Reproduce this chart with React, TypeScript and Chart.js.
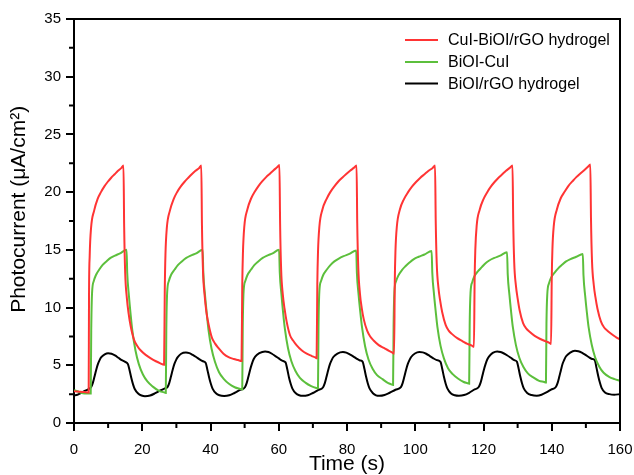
import React, { useEffect, useRef } from "react";
import { Chart, registerables } from "chart.js";

Chart.register(...registerables);

const FONT = '"Liberation Sans", Arial, Helvetica, sans-serif';

const seriesNames = ["CuI-BiOI/rGO hydrogel", "BiOI-CuI", "BiOI/rGO hydrogel"];
const seriesColors = ["#ff3434", "#5cbf3c", "#000000"];

const xMajorTicks = [0, 20, 40, 60, 80, 100, 120, 140, 160];
const xMinorTicks = [10, 30, 50, 70, 90, 110, 130, 150];
const yMajorTicks = [0, 5, 10, 15, 20, 25, 30, 35];
const yMinorTicks = [2.5, 7.5, 12.5, 17.5, 22.5, 27.5, 32.5];

const xTitle = "Time (s)";
const yTitle = "    Photocurrent (\u03bcA/cm\u00b2)";

// time (s), photocurrent (µA/cm²)
const redCurve: [number, number][] = [
  [0, 2.75], [1, 2.72], [2, 2.7], [3, 2.68], [4.3, 2.65],
  [4.4, 11], [4.6, 14.5], [5.0, 16.9], [5.9, 18.4], [6.9, 19.4], [7.9, 20.0], [8.9, 20.5], [9.9, 20.9], [10.9, 21.25], [11.9, 21.55], [12.9, 21.85], [13.9, 22.1], [14.5, 22.3],
  [14.7, 17], [15.0, 13.0], [15.5, 10.8], [16.0, 9.5], [16.6, 8.4], [17.6, 7.2], [18.5, 6.7], [19.5, 6.3], [21.0, 5.9], [22.5, 5.6], [24.0, 5.35], [25.3, 5.17], [26.4, 5.05],
  [26.6, 11.5], [26.8, 14.6], [27.2, 16.9], [28.1, 18.4], [29.2, 19.4], [30.2, 20.0], [31.3, 20.5], [32.4, 20.9], [33.5, 21.25], [34.5, 21.55], [35.6, 21.85], [36.7, 22.1], [37.3, 22.3],
  [37.5, 17.1], [37.8, 13.2], [38.3, 11.0], [38.8, 9.6], [39.4, 8.6], [40.4, 7.4], [41.3, 6.9], [42.3, 6.5], [43.8, 6.0], [45.3, 5.7], [46.8, 5.55], [48.1, 5.45], [49.1, 5.37],
  [49.3, 11.8], [49.5, 14.7], [49.9, 17.0], [50.8, 18.5], [51.9, 19.45], [53.0, 20.05], [54.1, 20.55], [55.2, 20.95], [56.3, 21.3], [57.4, 21.6], [58.5, 21.9], [59.5, 22.15], [60.2, 22.35],
  [60.4, 17.2], [60.7, 13.3], [61.2, 11.1], [61.7, 9.9], [62.3, 8.8], [63.3, 7.6], [64.2, 7.15], [65.2, 6.75], [66.7, 6.3], [68.2, 6.0], [69.7, 5.8], [70.9, 5.65], [71.1, 5.6],
  [71.3, 12], [71.5, 14.8], [71.9, 17.0], [72.8, 18.5], [74.0, 19.4], [75.1, 20.0], [76.3, 20.5], [77.4, 20.9], [78.6, 21.25], [79.7, 21.55], [80.9, 21.85], [82.0, 22.1], [82.8, 22.3],
  [83.0, 17.3], [83.3, 13.5], [83.8, 11.2], [84.3, 10.0], [84.9, 9.0], [85.9, 8.0], [86.8, 7.5], [87.8, 7.15], [89.3, 6.75], [90.8, 6.5], [92.3, 6.25], [93.3, 6.1], [93.8, 6.0],
  [94.0, 12.2], [94.2, 14.9], [94.6, 17.0], [95.5, 18.5], [96.7, 19.4], [97.9, 20.0], [99.1, 20.5], [100.3, 20.9], [101.5, 21.25], [102.7, 21.55], [103.9, 21.85], [105.1, 22.1], [105.8, 22.3],
  [106.0, 17.5], [106.3, 13.8], [106.8, 11.7], [107.3, 10.6], [107.9, 9.6], [108.9, 8.5], [109.8, 8.0], [110.8, 7.7], [112.3, 7.35], [113.8, 7.1], [115.3, 6.85], [116.6, 6.7], [117.2, 6.6],
  [117.4, 12.4], [117.6, 15.0], [118.0, 17.1], [118.9, 18.5], [120.0, 19.4], [121.1, 20.0], [122.2, 20.5], [123.3, 20.9], [124.4, 21.25], [125.5, 21.55], [126.6, 21.85], [127.7, 22.1], [128.5, 22.3],
  [128.7, 17.6], [129.0, 13.9], [129.5, 11.9], [130.0, 10.8], [130.6, 9.75], [131.6, 8.65], [132.5, 8.2], [133.5, 7.9], [135.0, 7.55], [136.5, 7.3], [138.0, 7.1], [139.3, 6.95], [139.8, 6.85],
  [140.0, 12.5], [140.2, 15.1], [140.6, 17.1], [141.5, 18.5], [142.6, 19.45], [143.8, 20.05], [144.9, 20.55], [146.1, 20.95], [147.2, 21.3], [148.3, 21.6], [149.5, 21.9], [150.6, 22.2], [151.3, 22.4],
  [151.5, 17.7], [151.8, 14.0], [152.3, 12.0], [152.8, 10.9], [153.4, 9.9], [154.4, 8.8], [155.3, 8.3], [156.3, 8.0], [157.8, 7.65], [159.0, 7.4], [160, 7.25],
];

const greenCurve: [number, number][] = [
  [0, 2.85], [1, 2.75], [2, 2.62], [3, 2.55], [4.9, 2.55],
  [5.05, 8], [5.3, 11.3], [5.8, 12.3], [6.4, 12.8], [7.4, 13.3], [8.4, 13.7], [9.5, 14.0], [10.7, 14.3], [12.0, 14.5], [13.5, 14.7], [15.4, 15.0],
  [15.6, 13], [16.1, 11.0], [16.6, 9.4], [17.1, 8.0], [18.0, 6.3], [19.0, 5.1], [20.2, 4.2], [21.5, 3.6], [23.1, 3.15], [24.8, 2.8], [26.4, 2.65], [26.9, 2.6],
  [27.05, 8], [27.3, 11.3], [27.8, 12.3], [28.4, 12.8], [29.5, 13.3], [30.5, 13.7], [31.6, 14.0], [32.9, 14.3], [34.2, 14.5], [35.8, 14.7], [37.7, 15.0],
  [37.9, 13.0], [38.4, 11.05], [38.9, 9.5], [39.4, 8.1], [40.3, 6.45], [41.3, 5.3], [42.5, 4.4], [43.8, 3.85], [45.4, 3.4], [47.1, 3.1], [48.7, 2.95], [49.3, 2.9],
  [49.45, 8.2], [49.7, 11.4], [50.2, 12.3], [50.8, 12.8], [51.9, 13.3], [52.9, 13.7], [54.0, 14.0], [55.3, 14.3], [56.6, 14.5], [58.2, 14.7], [60.1, 15.0],
  [60.3, 13.05], [60.8, 11.1], [61.3, 9.5], [61.8, 8.15], [62.7, 6.5], [63.7, 5.35], [64.9, 4.5], [66.2, 3.9], [67.8, 3.5], [69.5, 3.2], [71.0, 3.03], [71.5, 3.0],
  [71.65, 8.3], [71.9, 11.4], [72.4, 12.3], [73.0, 12.8], [74.1, 13.3], [75.2, 13.7], [76.3, 14.0], [77.6, 14.25], [79.0, 14.45], [80.7, 14.65], [82.7, 14.95],
  [82.9, 13.0], [83.4, 11.1], [83.9, 9.6], [84.4, 8.3], [85.3, 6.65], [86.3, 5.5], [87.5, 4.7], [88.8, 4.15], [90.4, 3.8], [92.1, 3.45], [93.0, 3.35], [93.5, 3.3],
  [93.65, 8.4], [93.9, 11.4], [94.4, 12.3], [95.0, 12.75], [96.1, 13.25], [97.2, 13.6], [98.3, 13.9], [99.6, 14.2], [101.0, 14.4], [102.7, 14.6], [104.8, 14.9],
  [105.0, 13.0], [105.5, 11.15], [106.0, 9.65], [106.5, 8.3], [107.4, 6.7], [108.4, 5.6], [109.6, 4.75], [110.9, 4.25], [112.5, 3.85], [114.2, 3.55], [115.3, 3.45], [115.8, 3.4],
  [115.95, 8.5], [116.2, 11.3], [116.7, 12.2], [117.3, 12.7], [118.4, 13.15], [119.5, 13.5], [120.6, 13.85], [121.8, 14.1], [123.2, 14.3], [124.9, 14.5], [126.9, 14.8],
  [127.1, 12.9], [127.6, 11.1], [128.1, 9.6], [128.6, 8.3], [129.5, 6.75], [130.5, 5.65], [131.7, 4.85], [133.0, 4.3], [134.6, 3.95], [136.3, 3.65], [137.8, 3.55], [138.3, 3.5],
  [138.45, 8.6], [138.7, 11.2], [139.2, 12.1], [139.8, 12.6], [140.9, 13.05], [141.9, 13.4], [143.0, 13.7], [144.2, 14.0], [145.5, 14.2], [147.2, 14.4], [149.1, 14.65],
  [149.3, 12.8], [149.8, 11.0], [150.3, 9.55], [150.8, 8.3], [151.7, 6.8], [152.7, 5.7], [153.9, 4.9], [155.2, 4.35], [156.8, 4.0], [158.4, 3.8], [160, 3.65],
];

const blackCurve: [number, number][] = [
  [0, 2.4], [1, 2.45], [2, 2.6], [3, 2.75], [4, 2.9], [5.0, 3.1],
  [5.5, 3.45], [6.0, 4.0], [6.5, 4.6], [7.0, 5.1], [7.5, 5.45], [8.0, 5.7], [9.0, 5.95], [10.0, 6.05], [11.0, 6.0], [12.0, 5.85], [13.0, 5.65], [14.0, 5.45], [15.0, 5.3], [15.8, 5.1],
  [16.3, 4.55], [16.8, 3.9], [17.3, 3.35], [17.8, 2.95], [18.8, 2.55], [19.8, 2.38], [20.8, 2.32], [22.3, 2.38], [23.8, 2.58], [25.3, 2.82], [26.5, 2.98], [27.4, 3.1],
  [27.9, 3.45], [28.4, 4.0], [28.9, 4.6], [29.4, 5.1], [29.9, 5.45], [30.4, 5.7], [31.4, 6.0], [32.8, 6.1], [33.8, 6.05], [34.8, 5.9], [35.8, 5.72], [36.8, 5.52], [37.8, 5.35], [38.6, 5.2],
  [39.1, 4.6], [39.6, 3.95], [40.1, 3.4], [40.6, 2.98], [41.6, 2.57], [42.6, 2.4], [44.0, 2.34], [45.5, 2.4], [47.0, 2.6], [48.5, 2.85], [50.1, 3.1],
  [50.6, 3.45], [51.1, 4.0], [51.6, 4.6], [52.1, 5.1], [52.6, 5.5], [53.1, 5.75], [54.3, 6.05], [56.0, 6.2], [57.0, 6.15], [58.0, 6.0], [59.0, 5.8], [60.0, 5.6], [61.0, 5.4], [62.0, 5.25],
  [62.5, 4.65], [63.0, 3.95], [63.5, 3.4], [64.0, 2.98], [65.0, 2.57], [66.0, 2.4], [67.0, 2.35], [68.5, 2.4], [70.0, 2.6], [71.5, 2.85], [73.0, 3.1],
  [73.5, 3.45], [74.0, 4.0], [74.5, 4.6], [75.0, 5.1], [75.5, 5.45], [76.0, 5.72], [77.2, 6.02], [78.8, 6.15], [79.8, 6.1], [80.8, 5.95], [81.8, 5.78], [82.8, 5.58], [83.8, 5.42], [84.6, 5.3],
  [85.1, 4.7], [85.6, 4.0], [86.1, 3.42], [86.6, 3.0], [87.6, 2.58], [88.5, 2.4], [89.5, 2.35], [91.0, 2.42], [92.5, 2.62], [94.2, 2.88], [95.8, 3.1],
  [96.3, 3.45], [96.8, 4.0], [97.3, 4.6], [97.8, 5.1], [98.3, 5.45], [98.8, 5.72], [99.9, 6.02], [101.2, 6.15], [102.2, 6.12], [103.2, 6.0], [104.2, 5.82], [105.2, 5.62], [106.3, 5.45], [107.4, 5.3],
  [107.9, 4.7], [108.4, 4.0], [108.9, 3.42], [109.4, 3.0], [110.4, 2.58], [111.6, 2.4], [112.8, 2.36], [114.3, 2.42], [115.8, 2.62], [117.2, 2.88], [118.6, 3.12],
  [119.1, 3.45], [119.6, 4.0], [120.1, 4.6], [120.6, 5.1], [121.1, 5.5], [121.6, 5.75], [122.7, 6.07], [124.0, 6.2], [125.0, 6.15], [126.0, 6.02], [127.0, 5.85], [128.0, 5.65], [129.0, 5.45], [129.8, 5.3],
  [130.3, 4.7], [130.8, 4.0], [131.3, 3.42], [131.8, 3.0], [132.8, 2.6], [134.1, 2.42], [135.6, 2.37], [137.0, 2.45], [138.4, 2.65], [139.8, 2.9], [141.2, 3.12],
  [141.7, 3.45], [142.2, 4.0], [142.7, 4.6], [143.2, 5.15], [143.7, 5.5], [144.2, 5.78], [145.4, 6.1], [146.8, 6.25], [147.8, 6.22], [148.8, 6.1], [149.8, 5.92], [150.8, 5.72], [151.8, 5.55], [152.6, 5.45],
  [153.1, 4.8], [153.6, 4.1], [154.1, 3.5], [154.6, 3.05], [155.6, 2.65], [156.9, 2.5], [158.3, 2.45], [160, 2.5],
];

const curves = [redCurve, greenCurve, blackCurve];

const framePlugin = {
  id: "frameAndLegend",
  afterDraw(chart: any) {
    const { ctx, chartArea: a, scales } = chart;
    ctx.save();
    ctx.strokeStyle = "#000";
    ctx.lineWidth = 2;
    ctx.beginPath();
    ctx.moveTo(a.left - 1, a.top);
    ctx.lineTo(a.right, a.top);
    ctx.lineTo(a.right, a.bottom + 1);
    ctx.stroke();

    ctx.beginPath();
    xMinorTicks.forEach((v) => {
      const px = scales.x.getPixelForValue(v);
      ctx.moveTo(px, a.bottom);
      ctx.lineTo(px, a.bottom + 5);
    });
    yMinorTicks.forEach((v) => {
      const py = scales.y.getPixelForValue(v);
      ctx.moveTo(a.left, py);
      ctx.lineTo(a.left - 5, py);
    });
    ctx.stroke();

    // legend
    const lineX0 = a.right - 215;
    const lineX1 = a.right - 182;
    const textX = a.right - 172;
    const rowY = [a.top + 21, a.top + 43, a.top + 64.5];
    ctx.font = `16px ${FONT}`;
    ctx.textBaseline = "middle";
    ctx.textAlign = "left";
    chart.data.datasets.forEach((ds: any, i: number) => {
      ctx.strokeStyle = ds.borderColor;
      ctx.lineWidth = 2;
      ctx.beginPath();
      ctx.moveTo(lineX0, rowY[i]);
      ctx.lineTo(lineX1, rowY[i]);
      ctx.stroke();
      ctx.fillStyle = "#000";
      ctx.fillText(ds.label, textX, rowY[i] + 1);
    });
    ctx.restore();
  },
};

export default function App() {
  const ref = useRef<HTMLCanvasElement>(null);

  useEffect(() => {
    if (!ref.current) return;
    const datasets = curves.map((c, i) => ({
      label: seriesNames[i],
      data: c.map(([x, y]) => ({ x, y })),
      borderColor: seriesColors[i],
      backgroundColor: seriesColors[i],
      borderWidth: 2,
      pointRadius: 0,
      fill: false,
      cubicInterpolationMode: "monotone" as const,
    }));
    const axisCommon = {
      grid: {
        display: true,
        drawOnChartArea: false,
        drawTicks: true,
        tickLength: 8,
        lineWidth: 2,
        color: "#000",
      },
      border: { display: true, width: 2, color: "#000" },
    };
    const chart = new Chart(ref.current, {
      type: "line",
      data: { datasets },
      options: {
        animation: false,
        responsive: false,
        events: [],
        layout: { padding: { top: 19, right: 14, left: 0, bottom: 0 } },
        plugins: { legend: { display: false }, tooltip: { enabled: false } },
        scales: {
          x: {
            type: "linear",
            min: 0,
            max: 160,
            ...axisCommon,
            afterBuildTicks: (s: any) => {
              s.ticks = xMajorTicks.map((value) => ({ value }));
            },
            afterFit: (s: any) => {
              s.height = 52;
              s.paddingLeft = 0;
              s.paddingRight = 0;
            },
            ticks: {
              color: "#000",
              font: { family: FONT, size: 15 },
              padding: 10,
              maxRotation: 0,
            },
            title: {
              display: true,
              text: xTitle,
              color: "#000",
              font: { family: FONT, size: 21, lineHeight: 1 },
              padding: { top: 0, bottom: 0 },
            },
          },
          y: {
            type: "linear",
            min: 0,
            max: 35,
            ...axisCommon,
            afterBuildTicks: (s: any) => {
              s.ticks = yMajorTicks.map((value) => ({ value }));
            },
            afterFit: (s: any) => {
              s.width = 74;
            },
            ticks: {
              color: "#000",
              font: { family: FONT, size: 15 },
              padding: 5,
            },
            title: {
              display: true,
              text: yTitle,
              color: "#000",
              font: { family: FONT, size: 21, lineHeight: 1 },
              padding: { top: 9, bottom: 0 },
            },
          },
        },
      },
      plugins: [framePlugin],
    });
    return () => chart.destroy();
  }, []);

  return (
    <div style={{ position: "absolute", left: 0, top: 0, width: 634, height: 475, background: "#fff" }}>
      <canvas ref={ref} width={634} height={475} style={{ display: "block" }} />
    </div>
  );
}
